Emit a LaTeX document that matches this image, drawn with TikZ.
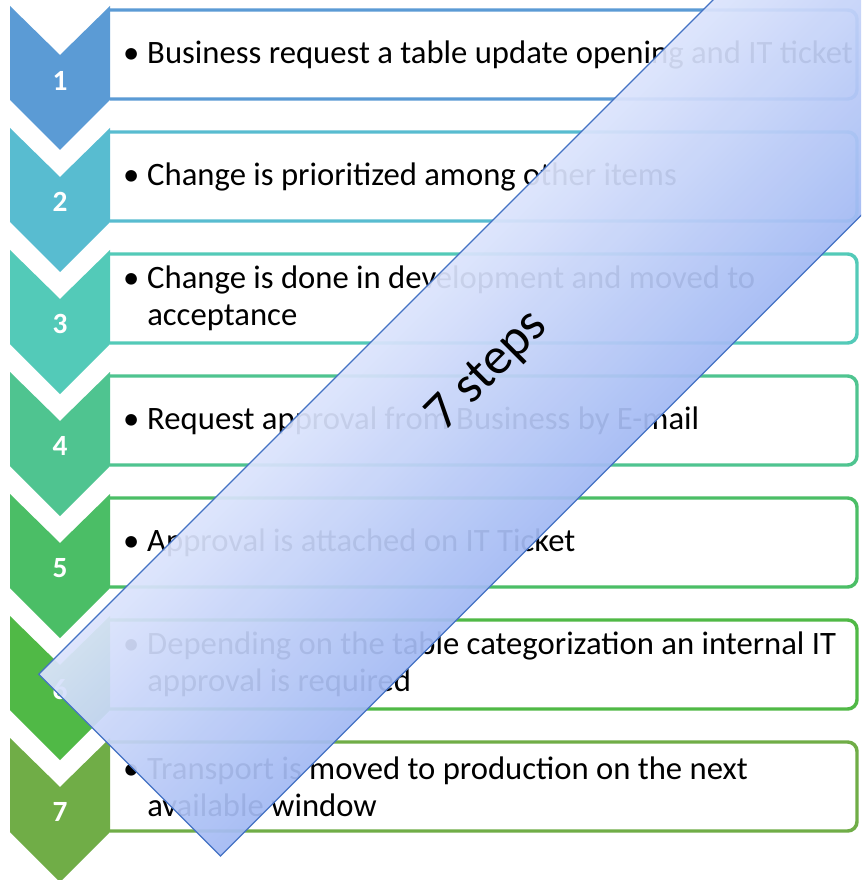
\documentclass[tikz,border=0pt]{standalone}
\usepackage{fontspec}
\setmainfont{Carlito}
\usepackage{tikz}
\usepackage{xcolor}
\usetikzlibrary{positioning}

\definecolor{stepA}{HTML}{5B9BD5}
\definecolor{stepB}{HTML}{58BCD0}
\definecolor{stepC}{HTML}{53CAB8}
\definecolor{stepD}{HTML}{4FC490}
\definecolor{stepE}{HTML}{4BBE66}
\definecolor{stepF}{HTML}{50B946}
\definecolor{stepG}{HTML}{70AD47}
\definecolor{bannerlight}{HTML}{DCE4FC}
\definecolor{bannerdark}{HTML}{A3BAF4}
\definecolor{bannerline}{HTML}{4472C4}

\begin{document}
\begin{tikzpicture}[
    x=0.75pt, y=-0.75pt,
    box/.style={line width=2.6pt, rounded corners=7pt},
    num/.style={text=white, font=\bfseries\fontsize{22}{26}\selectfont},
    item/.style={anchor=west, align=left, inner sep=0pt,
        font=\fontsize{24.5}{27.75}\selectfont}
]

\useasboundingbox (0,0) rectangle (861,880);
\fill[white] (0,0) rectangle (861,880);
\clip (0,0) rectangle (861,880);

% Text boxes
\draw[box, stepA] (110,10) -- (857,10) -- (857,99) -- (110,99);
\draw[box, stepB] (110,132) -- (857,132) -- (857,221) -- (110,221);
\draw[box, stepC] (110,254) -- (857,254) -- (857,343) -- (110,343);
\draw[box, stepD] (110,376) -- (857,376) -- (857,465) -- (110,465);
\draw[box, stepE] (110,498) -- (857,498) -- (857,587) -- (110,587);
\draw[box, stepF] (110,620) -- (857,620) -- (857,709) -- (110,709);
\draw[box, stepG] (110,742) -- (857,742) -- (857,831) -- (110,831);

% Chevrons
\fill[stepA] (10,6) -- (60,55) -- (110,6) -- (110,100) -- (60,150) -- (10,100) -- cycle;
\fill[stepB] (10,128) -- (60,177) -- (110,128) -- (110,222) -- (60,272) -- (10,222) -- cycle;
\fill[stepC] (10,250) -- (60,299) -- (110,250) -- (110,344) -- (60,394) -- (10,344) -- cycle;
\fill[stepD] (10,372) -- (60,421) -- (110,372) -- (110,466) -- (60,516) -- (10,466) -- cycle;
\fill[stepE] (10,494) -- (60,543) -- (110,494) -- (110,588) -- (60,638) -- (10,588) -- cycle;
\fill[stepF] (10,616) -- (60,665) -- (110,616) -- (110,710) -- (60,760) -- (10,710) -- cycle;
\fill[stepG] (10,738) -- (60,787) -- (110,738) -- (110,832) -- (60,882) -- (10,832) -- cycle;

% Step numbers
\node[num] (num1) at (60,81) {1};
\node[num] (num2) at (60,202) {2};
\node[num] (num3) at (60,324) {3};
\node[num] (num4) at (60,446) {4};
\node[num] (num5) at (60,568) {5};
\node[num] (num6) at (60,690) {6};
\node[num] (num7) at (60,812) {7};

% Step texts
\node[item] (item1) at (147,54.5) {\llap{•\hspace{6pt}}Business request a table update opening and IT ticket};
\node[item] (item2) at (147,176.5) {\llap{•\hspace{6pt}}Change is prioritized among other items};
\node[item] (item3) at (147,298.5) {\llap{•\hspace{6pt}}Change is done in development and moved to\\acceptance};
\node[item] (item4) at (147,420.5) {\llap{•\hspace{6pt}}Request approval from Business by E-mail};
\node[item] (item5) at (147,542.5) {\llap{•\hspace{6pt}}Approval is attached on IT Ticket};
\node[item] (item6) at (147,664.5) {\llap{•\hspace{6pt}}Depending on the table categorization an internal IT\\approval is required};
\node[item] (item7) at (147,786.5) {\llap{•\hspace{6pt}}Transport is moved to production on the next\\available window};

% Banner
\begin{scope}[transform canvas={shift={(38.75,674.25)}, rotate=-45}]
  \shade[left color=bannerlight, right color=bannerdark, fill opacity=0.93] (0,0) rectangle (257,-1400);
  \draw[bannerline, line width=1pt] (0,0) rectangle (257,-1400);
\end{scope}
\node[rotate=45, anchor=base, font=\fontsize{39}{47}\selectfont] (steps) at (497,380) {7 steps};

\end{tikzpicture}
\end{document}
